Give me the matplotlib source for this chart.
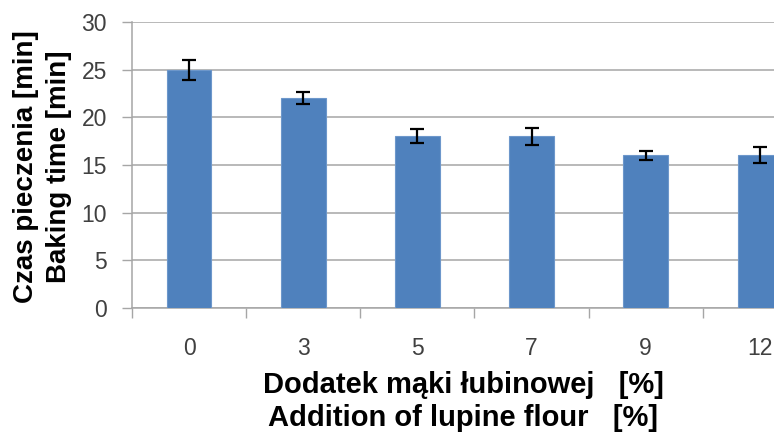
import numpy as np
import matplotlib.pyplot as plt
import matplotlib as mpl

mpl.rcParams['font.family'] = ['Liberation Sans', 'DejaVu Sans']

# data
categories = ["0", "3", "5", "7", "9", "12"]
baking_time = [25, 22, 18, 18, 16, 16]
baking_err = [1.05, 0.65, 0.73, 0.86, 0.5, 0.84]

BAR_COLOR = "#4F81BD"
GRID_COLOR = "#A6A6A6"
TEXT_COLOR = "#404040"

fig = plt.figure(figsize=(7.74, 4.38), dpi=100)
ax = fig.add_axes([132 / 774, 1 - 308 / 438, 685 / 774, 286 / 438])

x = np.arange(len(categories))
ax.bar(x, baking_time, width=0.39, color=BAR_COLOR, edgecolor="#6D97CB",
       linewidth=0.8, zorder=3)
ax.errorbar(x, baking_time, yerr=baking_err, fmt="none", ecolor="black",
            elinewidth=1.6, capsize=5, capthick=1.6, zorder=4)

ax.set_xlim(-0.5, len(categories) - 0.5)
ax.set_ylim(0, 30)
ax.set_yticks(range(0, 31, 5))
ax.yaxis.grid(True, color=GRID_COLOR, linewidth=1.1, zorder=0)
ax.set_axisbelow(True)

# ticks between categories, labels at the centres
ax.set_xticks(np.arange(-0.5, len(categories), 1.0))
ax.set_xticklabels([])
ax.set_xticks(x, minor=True)
ax.set_xticklabels(categories, minor=True)
ax.tick_params(axis="x", which="major", length=7, width=1.0, color=GRID_COLOR,
               direction="out")
ax.tick_params(axis="x", which="minor", length=0, pad=21, labelsize=16.5,
               labelcolor=TEXT_COLOR)
ax.tick_params(axis="y", length=7, width=1.0, color=GRID_COLOR, pad=11,
               labelsize=16.5, labelcolor=TEXT_COLOR)

for side in ["top", "right"]:
    ax.spines[side].set_visible(False)
for side in ["left", "bottom"]:
    ax.spines[side].set_color(GRID_COLOR)
    ax.spines[side].set_linewidth(1.1)

fig.text(463 / 774, 1 - 385 / 438,
         "Dodatek mąki łubinowej   [%]", ha="center", va="center",
         fontsize=21, fontweight="bold")
fig.text(463 / 774, 1 - 418 / 438,
         "Addition of lupine flour   [%]", ha="center", va="center",
         fontsize=21, fontweight="bold")

fig.text(26 / 774, 1 - 167 / 438, "Czas pieczenia [min]", rotation=90,
         ha="center", va="center", fontsize=20, fontweight="bold")
fig.text(59 / 774, 1 - 167 / 438, "Baking time [min]", rotation=90,
         ha="center", va="center", fontsize=20, fontweight="bold")

fig.savefig("out.png", dpi=100)
